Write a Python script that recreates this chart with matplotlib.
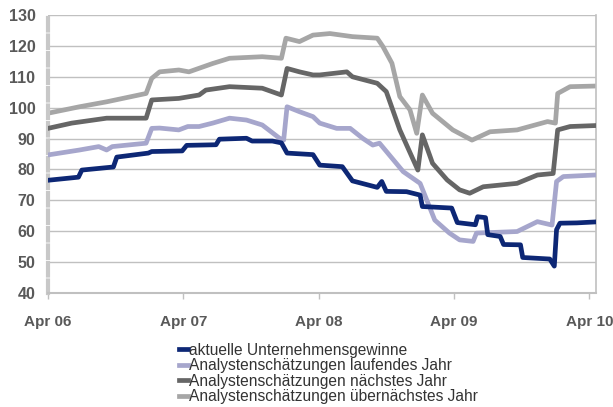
import matplotlib
matplotlib.use("Agg")
import matplotlib.pyplot as plt

# months since Apr 06
navy_x = [0, 2.7, 3.0, 5.8, 6.1, 8.9, 9.2, 11.9, 12.3, 14.9, 15.2, 17.6, 18.1, 19.9, 20.7, 21.2,
          23.5, 24.1, 26.1, 27.0, 29.2, 29.6, 30.0, 31.8, 33.0, 33.2, 35.8, 36.3, 37.9, 38.1,
          38.8, 39.0, 40.1, 40.4, 41.9, 42.1, 44.5, 44.9, 45.1, 45.4, 46.9, 48.5]
navy_y = [76.5, 77.5, 79.8, 80.8, 84.0, 85.3, 85.8, 86.0, 87.8, 88.0, 89.8, 90.1, 89.2, 89.2, 88.6, 85.3,
          84.8, 81.4, 80.9, 76.3, 74.2, 76.1, 72.9, 72.8, 71.7, 68.0, 67.5, 62.8, 62.1, 64.7,
          64.4, 58.9, 58.3, 55.7, 55.6, 51.5, 51.0, 48.7, 60.5, 62.6, 62.7, 63.0]

lav_x = [0, 2.8, 4.5, 5.2, 5.7, 8.7, 9.2, 9.9, 11.6, 12.4, 13.4, 14.6, 16.1, 17.6, 19.0, 20.5, 20.9,
         21.2, 22.3, 23.5, 24.1, 25.6, 26.8, 27.9, 28.8, 29.4, 31.5, 33.0, 34.3, 35.6, 36.5, 37.7,
         38.0, 41.6, 43.4, 44.7, 45.1, 45.7, 48.5]
lav_y = [84.7, 86.3, 87.4, 86.3, 87.4, 88.5, 93.3, 93.4, 92.8, 93.9, 93.9, 95.0, 96.6, 96.0, 94.4, 90.2, 89.5,
         100.3, 98.7, 97.1, 95.0, 93.3, 93.3, 90.1, 87.9, 88.5, 79.3, 75.5, 63.6, 59.4, 57.2, 56.7,
         59.4, 59.9, 63.1, 62.0, 76.1, 77.7, 78.2]

dark_x = [0, 2.1, 5.2, 8.7, 9.2, 11.6, 13.4, 14.0, 16.1, 19.0, 20.7, 21.2, 22.3, 23.5, 24.1, 26.5,
          27.0, 29.2, 30.0, 31.2, 32.8, 33.2, 34.1, 35.4, 36.5, 37.4, 38.6, 41.6, 43.4, 44.8, 45.2,
          46.3, 48.5]
dark_y = [93.3, 95.0, 96.6, 96.6, 102.5, 103.0, 104.1, 105.7, 106.8, 106.3, 104.1, 112.7, 111.6, 110.6,
          110.6, 111.6, 110.0, 107.9, 105.2, 92.8, 79.8, 91.2, 82.0, 76.6, 73.4, 72.3, 74.4, 75.5,
          78.2, 78.7, 92.8, 93.9, 94.2]

light_x = [0, 2.8, 5.2, 8.7, 9.2, 9.9, 11.6, 12.5, 14.6, 16.1, 19.0, 20.7, 21.1, 22.3, 23.5, 25.0,
           27.0, 29.2, 29.7, 30.5, 31.2, 32.1, 32.7, 33.2, 34.1, 35.9, 37.6, 39.2, 41.6, 44.3,
           45.0, 45.2, 46.3, 48.5]
light_y = [98.2, 100.3, 101.9, 104.6, 109.5, 111.6, 112.2, 111.6, 114.3, 116.0, 116.5, 116.0, 122.5,
           121.4, 123.5, 124.0, 123.0, 122.5, 119.8, 114.4, 103.6, 99.3, 91.7, 104.1, 98.2, 92.8,
           89.5, 92.2, 92.8, 95.5, 95.0, 104.6, 106.8, 107.0]

labels = ["aktuelle Unternehmensgewinne",
          "Analystenschätzungen laufendes Jahr",
          "Analystenschätzungen nächstes Jahr",
          "Analystenschätzungen übernächstes Jahr"]
tick_pos = [0, 12, 24, 36, 48]
tick_labels = ["Apr 06", "Apr 07", "Apr 08", "Apr 09", "Apr 10"]

plt.rcParams['font.family'] = ['Liberation Sans', 'DejaVu Sans']

fig = plt.figure(figsize=(6.13, 4.07), dpi=100)
ax = fig.add_axes([0.0783, 0.2801, 0.894, 0.683])

ax.plot(navy_x, navy_y, color='#0d2775', lw=3.4, label=labels[0], zorder=5)
ax.plot(lav_x, lav_y, color='#a6a6cc', lw=3.4, label=labels[1], zorder=4)
ax.plot(dark_x, dark_y, color='#666666', lw=3.4, label=labels[2], zorder=3)
ax.plot(light_x, light_y, color='#a6a6a6', lw=3.4, label=labels[3], zorder=2)

ax.set_xlim(0, 48.6)
ax.set_ylim(40, 130)
ax.set_yticks(range(40, 131, 10))
ax.set_xticks(tick_pos)
ax.set_xticklabels(tick_labels)

ax.grid(axis='y', color='#c0c0c0', lw=1)
ax.set_axisbelow(True)

ax.spines['top'].set_visible(False)
ax.spines['left'].set_color('#c8c8c8')
ax.spines['left'].set_linewidth(3)
ax.spines['left'].set_linestyle((0, (3, 1.2)))
ax.spines['bottom'].set_color('#c0c0c0')
ax.spines['bottom'].set_linewidth(1.5)
ax.spines['right'].set_color('#c0c0c0')
ax.spines['right'].set_linewidth(1.2)

ax.tick_params(axis='y', length=0, pad=9, labelsize=11.5, labelcolor='#595959')
ax.tick_params(axis='x', length=4, width=1, color='#c0c0c0', pad=12, labelsize=11,
               labelcolor='#595959')
for t in ax.get_xticklabels() + ax.get_yticklabels():
    t.set_fontweight('bold')

leg = fig.legend(loc='upper left', bbox_to_anchor=(0.292, 0.158), frameon=False,
                 handlelength=0.6, handletextpad=0.05, labelspacing=0.03, fontsize=11.2,
                 borderaxespad=0, borderpad=0)
for t in leg.get_texts():
    t.set_color('#333333')

fig.savefig("out.png", dpi=100)
